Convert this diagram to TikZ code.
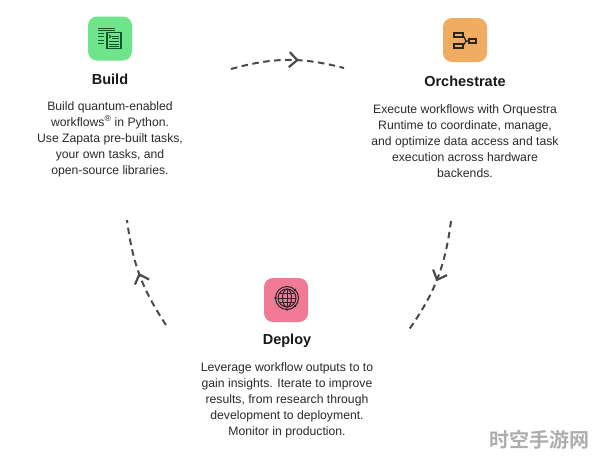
\documentclass[tikz,border=0pt]{standalone}
\usepackage{fontspec}
\setmainfont{Liberation Sans}
\newfontfamily\cjkfont{Noto Sans CJK SC}[BoldFont={* Bold}]
\usetikzlibrary{arrows.meta,decorations.markings}
\definecolor{pgreen}{HTML}{6EE58A}
\definecolor{porange}{HTML}{F0AC60}
\definecolor{ppink}{HTML}{F07A95}
\definecolor{dgreen}{HTML}{14532D}
\definecolor{dline}{HTML}{4A4A4A}
\definecolor{dtext}{HTML}{2A2A2A}
\tikzset{
  iconbox/.style={rounded corners=9pt,minimum width=44pt,minimum height=44pt,inner sep=0pt},
  ttl/.style={font=\fontsize{14.5}{16}\selectfont\bfseries,text=black!90},
  body/.style={font=\fontsize{12.2}{16}\selectfont,align=center,text=dtext},
  flow/.style={draw=dline,line width=2pt,dash pattern=on 6.5pt off 4.5pt,postaction={decorate},
               decoration={markings,mark=at position #1 with {\arrow[solid,line width=2.2pt]{Straight Barb[length=8pt,width=15pt]}}}},
  ico/.style={line width=1pt},
}
\begin{document}
\begin{tikzpicture}[x=1pt,y=-1pt]
\useasboundingbox[fill=white] (0,0) rectangle (596,458);
% icons
\node[iconbox,fill=pgreen] (buildicon) at (110,38.5) {};
\node[iconbox,fill=porange] (orchicon) at (465,40) {};
\node[iconbox,fill=ppink] (deployicon) at (286,300) {};
% build icon
\begin{scope}[shift={(buildicon)},ico,draw=dgreen]
  \draw[line width=1.3pt] (-3,-6) rectangle (11,10);
  \draw (-12,-10) -- (5,-10) (-12,-8) -- (5,-8);
  \draw (-12,-5.5) -- (-6,-5.5) (-12,-2) -- (-6,-2) (-12,1.5) -- (-6,1.5) (-12,5) -- (-6,5);
  \draw (2,-2.5) -- (9,-2.5) (2,0) -- (9,0) (-1,3) -- (9,3) (-1,5.5) -- (9,5.5) (-1,8) -- (9,8);
  \draw (-1,-3.5) -- (0.8,-2) -- (-1,-0.5);
\end{scope}
% orchestrate icon
\begin{scope}[shift={(orchicon)},ico,draw=black!85]
  \draw[line width=1.2pt] (-11,-7) rectangle (-2,-3);
  \draw[line width=1.2pt] (-11,4) rectangle (-2,8);
  \draw[line width=1.2pt] (4,-1) rectangle (11,3);
  \draw[line width=1.2pt] (-2,-5) -- (1,1) -- (-2,6) (1,1) -- (4,1);
\end{scope}
% deploy icon
\begin{scope}[shift={(deployicon)},ico,draw=black!85]
  \draw (1,-2) circle (9);
  \draw (1,-2) ellipse (4.5 and 9);
  \draw (-8,-2) -- (10,-2) (-7,-6.5) -- (9,-6.5) (-7,2.5) -- (9,2.5) (1,-11) -- (1,7);
  \draw (1,-2) circle (11.5);
  \fill[black!85] (-10.5,-2) circle (1.4) (9,-10) circle (1.4) (9,6) circle (1.4) (1,9.5) circle (1.4);
\end{scope}
% titles
\node[ttl] (buildttl) at (110,79) {Build};
\node[ttl] (orchttl) at (465,81) {Orchestrate};
\node[ttl] (deployttl) at (287,341) {Deploy};
% texts
\node[body] (buildtxt) at (110,139) {Build quantum-enabled\\workflows\textsuperscript{®} in Python.\\Use Zapata pre-built tasks,\\your own tasks, and\\open-source libraries.};
\node[body] (orchtxt) at (465,141) {Execute workflows with Orquestra\\Runtime to coordinate, manage,\\and optimize data access and task\\execution across hardware\\backends.};
\node[body] (deploytxt) at (287,400) {Leverage workflow outputs to to\\gain insights. Iterate to improve\\results, from research through\\development to deployment.\\Monitor in production.};
% flows
\coordinate (a1) at (231,69);
\coordinate (a2) at (344,68);
\coordinate (b1) at (451,221);
\coordinate (b2) at (408,331);
\coordinate (c1) at (166,325);
\coordinate (c2) at (127,220);
\draw[flow=0.6] (a1) to[bend left=15] (a2);
\draw[flow=0.52] (b1) to[bend left=14] (b2);
\draw[flow=0.52] (c1) to[bend left=13] (c2);
% watermark
\node[font=\cjkfont\bfseries\fontsize{20}{20}\selectfont,text=black!32,inner sep=0pt] (mark) at (539,440) {时空手游网};
\end{tikzpicture}
\end{document}
